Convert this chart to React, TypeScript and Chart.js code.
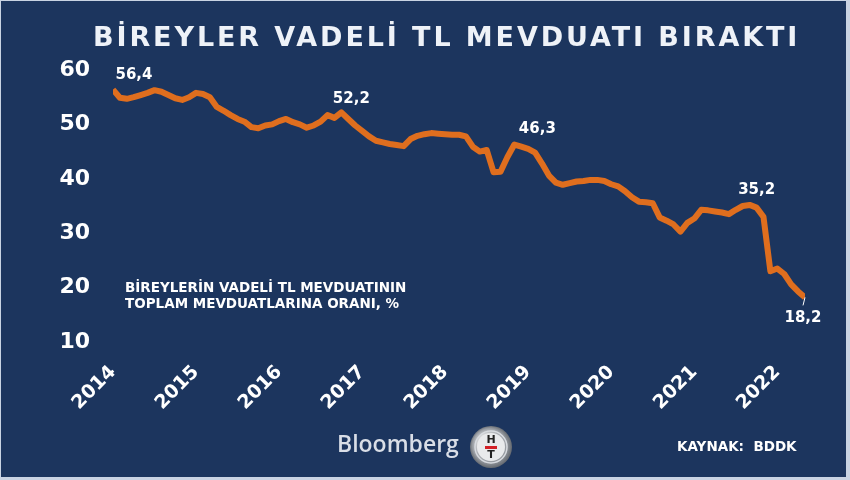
import React, { useEffect, useRef } from "react";
import { Chart, registerables, Plugin } from "chart.js";

Chart.register(...registerables);

// monthly share of individuals' TL time deposits in their total deposits, %
const startYear = 2014;
const v2014 = [56.4, 54.9, 54.7, 55.0, 55.4, 55.8, 56.3, 56.0, 55.4, 54.8, 54.5, 55.0];
const v2015 = [55.8, 55.6, 55.0, 53.2, 52.5, 51.7, 51.0, 50.5, 49.5, 49.3, 49.8, 50.0];
const v2016 = [50.6, 51.0, 50.4, 50.0, 49.4, 49.8, 50.5, 51.7, 51.2, 52.2, 51.0, 49.8];
const v2017 = [48.8, 47.8, 47.0, 46.7, 46.4, 46.2, 46.0, 47.3, 47.9, 48.2, 48.4, 48.3];
const v2018 = [48.2, 48.1, 48.1, 47.8, 45.9, 45.0, 45.3, 41.2, 41.3, 44.0, 46.3, 45.9];
const v2019 = [45.5, 44.8, 42.8, 40.6, 39.3, 38.9, 39.2, 39.5, 39.6, 39.8, 39.8, 39.6];
const v2020 = [39.0, 38.6, 37.7, 36.6, 35.8, 35.7, 35.5, 32.9, 32.3, 31.6, 30.3, 31.9];
const v2021 = [32.7, 34.3, 34.2, 34.0, 33.8, 33.5, 34.3, 35.0, 35.2, 34.7, 33.0, 23.0];
const v2022 = [23.5, 22.5, 20.6, 19.3, 18.2];
const shareValues = [...v2014, ...v2015, ...v2016, ...v2017, ...v2018, ...v2019, ...v2020, ...v2021, ...v2022];

const yearTicks = [2014, 2015, 2016, 2017, 2018, 2019, 2020, 2021, 2022];
const calloutIndex = [0, 33, 58, 92, 100];
const calloutText = ["56,4", "52,2", "46,3", "35,2", "18,2"];

const NAVY = "#1c355e";
const ORANGE = "#df6e1e";
const FONT = "'DejaVu Sans', Verdana, sans-serif";

const decor: Plugin<"line"> = {
  id: "decor",
  beforeDraw(chart) {
    const { ctx, width, height } = chart;
    ctx.save();
    ctx.fillStyle = "#c9d3e3";
    ctx.fillRect(0, 0, width, height);
    ctx.fillStyle = NAVY;
    ctx.fillRect(1, 1, width - 5, height - 4);
    ctx.restore();
  },
  afterDraw(chart) {
    const { ctx } = chart;
    const xs = chart.scales.x;
    const ys = chart.scales.y;
    ctx.save();
    ctx.textBaseline = "middle";

    // title
    ctx.font = `bold 27px ${FONT}`;
    ctx.textAlign = "left";
    (ctx as any).letterSpacing = "2.9px";
    ctx.fillStyle = "#eef2f8";
    ctx.fillText("BİREYLER VADELİ TL MEVDUATI BIRAKTI", 93, 39);
    (ctx as any).letterSpacing = "0px";

    // subtitle
    ctx.fillStyle = "#ffffff";
    ctx.font = `bold 13.5px ${FONT}`;
    ctx.fillText("BİREYLERİN VADELİ TL MEVDUATININ", 125, 288);
    ctx.fillText("TOPLAM MEVDUATLARINA ORANI, %", 125, 304);

    // callouts
    const offsets = [
      [21, -14],
      [10, -13],
      [23, -15],
      [7, -15],
      [-2, 21],
    ];
    ctx.font = `bold 15px ${FONT}`;
    ctx.textAlign = "center";
    calloutIndex.forEach((idx, k) => {
      const px = xs.getPixelForValue(startYear + idx / 12);
      const py = ys.getPixelForValue(shareValues[idx]);
      ctx.fillText(calloutText[k], px + offsets[k][0], py + offsets[k][1]);
    });
    const ex = xs.getPixelForValue(startYear + 100 / 12);
    const ey = ys.getPixelForValue(shareValues[100]);
    ctx.strokeStyle = "#ffffff";
    ctx.lineWidth = 1;
    ctx.beginPath();
    ctx.moveTo(ex, ey);
    ctx.lineTo(ex - 2, ey + 8);
    ctx.stroke();

    // footer
    ctx.textAlign = "left";
    ctx.font = `bold 13.5px ${FONT}`;
    ctx.fillText("KAYNAK:  BDDK", 677, 447);
    ctx.fillStyle = "#d9dee7";
    ctx.font = `600 23px 'Open Sans', 'Liberation Sans', sans-serif`;
    ctx.fillText("Bloomberg", 337, 445);

    // logo
    const cx = 491;
    const cy = 447;
    const g = ctx.createRadialGradient(cx - 6, cy - 6, 4, cx, cy, 22);
    g.addColorStop(0, "#f4f4f4");
    g.addColorStop(0.7, "#9a9ea4");
    g.addColorStop(1, "#5b6067");
    ctx.fillStyle = g;
    ctx.beginPath();
    ctx.arc(cx, cy, 21, 0, Math.PI * 2);
    ctx.fill();
    ctx.strokeStyle = "#d8dbe0";
    ctx.lineWidth = 1.5;
    ctx.beginPath();
    ctx.arc(cx, cy, 16, 0, Math.PI * 2);
    ctx.stroke();
    ctx.fillStyle = "#e9eaec";
    ctx.beginPath();
    ctx.arc(cx, cy, 14, 0, Math.PI * 2);
    ctx.fill();
    ctx.fillStyle = "#222222";
    ctx.textAlign = "center";
    ctx.font = `bold 11px ${FONT}`;
    ctx.fillText("H", cx, cy - 7);
    ctx.fillText("T", cx, cy + 8);
    ctx.fillStyle = "#d21f26";
    ctx.fillRect(cx - 6, cy - 1, 12, 3);
    ctx.restore();
  },
};

export default function App() {
  const canvasRef = useRef<HTMLCanvasElement | null>(null);

  useEffect(() => {
    document.body.style.margin = "0";
    const ctx = canvasRef.current?.getContext("2d");
    if (!ctx) return;

    const chart = new Chart(ctx, {
      type: "line",
      data: {
        datasets: [
          {
            label: "Oran",
            data: shareValues.map((v, i) => ({ x: startYear + i / 12, y: v })),
            borderColor: ORANGE,
            borderWidth: 6,
            pointRadius: 0,
            tension: 0,
            borderJoinStyle: "round",
          },
        ],
      },
      options: {
        animation: false,
        responsive: true,
        maintainAspectRatio: false,
        layout: { padding: { top: 70, right: 45, left: 0, bottom: 0 } },
        plugins: {
          legend: { display: false },
          tooltip: { enabled: false },
        },
        scales: {
          x: {
            type: "linear",
            min: startYear,
            max: startYear + (shareValues.length - 1) / 12,
            grid: { display: false, drawTicks: false },
            border: { display: false },
            afterFit: (s: any) => {
              s.height = 138;
            },
            afterBuildTicks: (s: any) => {
              s.ticks = yearTicks.map((v) => ({ value: v }));
            },
            ticks: {
              color: "#ffffff",
              font: { family: FONT, size: 19, weight: "bold" },
              minRotation: 45,
              maxRotation: 45,
              autoSkip: false,
              padding: 19,
              callback: (v: any) => String(v),
            },
          },
          y: {
            min: 10,
            max: 60,
            grid: { display: false, drawTicks: false },
            border: { display: false },
            afterFit: (s: any) => {
              s.width = 113;
            },
            ticks: {
              stepSize: 10,
              color: "#ffffff",
              font: { family: FONT, size: 22, weight: "bold" },
              padding: 23,
              callback: (v: any) => String(v),
            },
          },
        },
      },
      plugins: [decor],
    });

    return () => {
      chart.destroy();
    };
  }, []);

  return (
    <div style={{ position: "relative", width: 850, height: 480 }}>
      <canvas ref={canvasRef} />
    </div>
  );
}
